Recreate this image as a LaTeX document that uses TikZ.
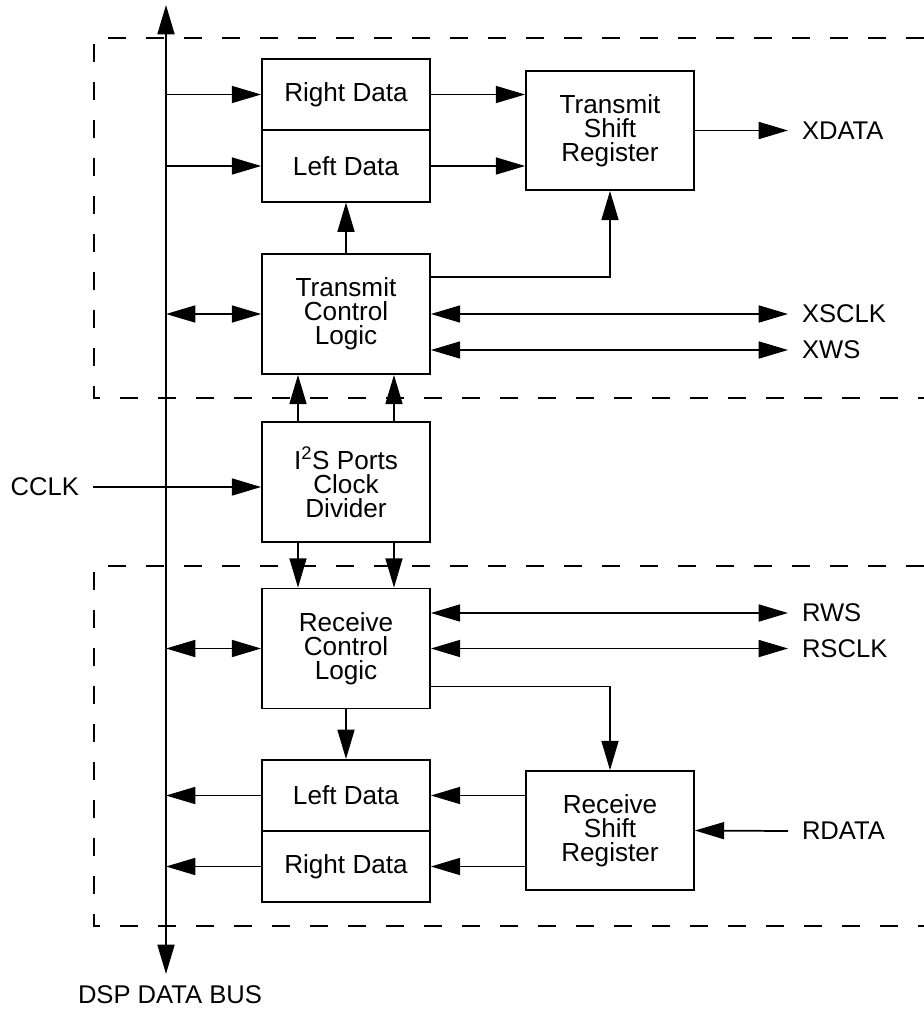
\documentclass[tikz,border=0pt]{standalone}
\usepackage{fontspec}
\setmainfont{Liberation Sans}
\usetikzlibrary{arrows.meta}

\tikzset{
  >={Triangle[length=22pt, width=12.75pt]},
  blk/.style={draw, line width=1.3pt, minimum width=126pt, minimum height=90pt,
    inner sep=0pt, align=center, font=\fontsize{19.6pt}{18pt}\selectfont},
  halfblk/.style={blk, minimum height=53.5pt},
  sig/.style={font=\fontsize{19.2pt}{18pt}\selectfont, inner sep=0pt, outer sep=10.5pt},
  frame/.style={dash pattern=on 13.5pt off 15pt, line width=1.3pt},
}

\begin{document}
\begin{tikzpicture}[x=0.75pt, y=-0.75pt, line width=1.3pt]
\useasboundingbox (0,0) rectangle (924,1014);
% dashed frames
\draw[frame] (924,38) -- (94,38) -- (94,398) -- (924,398);
\draw[frame] (924,566) -- (94,566) -- (94,926) -- (924,926);
% data bus
\coordinate (bustop) at (166,5);
\coordinate (busbot) at (166,974);
\draw[<->] (bustop) -- (busbot);
\node[sig, outer sep=0pt] (busname) at (170,995) {DSP DATA BUS};
% blocks
\node[halfblk] (rdatx) at (346,94.5) {Right Data};
\node[halfblk] (ldatx) at (346,166) {Left Data};
\node[blk, minimum height=89.25pt] (tsr) at (610,130.5) {Transmit\\Shift\\Register};
\node[blk] (tcl) at (346,314) {Transmit\\Control\\Logic};
\node[blk] (div) at (346,482) {I\textsuperscript{2}S Ports\\Clock\\Divider};
\node[blk] (rcl) at (346,648.5) {Receive\\Control\\Logic};
\node[halfblk] (ldarx) at (346,795.5) {Left Data};
\node[halfblk] (rdarx) at (346,866.5) {Right Data};
\node[blk, minimum height=89.25pt] (rsr) at (610,830.5) {Receive\\Shift\\Register};
% signal names
\node[sig, anchor=west] (xdata) at (788,130.5) {XDATA};
\node[sig, anchor=west] (xsclk) at (788,314) {XSCLK};
\node[sig, anchor=west] (xws) at (788,350) {XWS};
\node[sig, anchor=west] (rws) at (788,613) {RWS};
\node[sig, anchor=west] (rsclk) at (788,648.5) {RSCLK};
\node[sig, anchor=west] (rdata) at (788,831) {RDATA};
\node[sig, anchor=east] (cclk) at (93,487) {CCLK};
% transmit side
\draw[->] (bustop |- rdatx.west) -- (rdatx.west);
\draw[->] (bustop |- ldatx.west) -- (ldatx.west);
\draw[->] (rdatx.east) -- (rdatx.east -| tsr.west);
\draw[->] (ldatx.east) -- (ldatx.east -| tsr.west);
\draw[->] (tsr.east) -- (xdata.west);
\draw[->] (tcl.north) -- (ldatx.south);
\draw[->] ([yshift=-18pt]tcl.north east) -| (tsr.south);
\draw[<->] (bustop |- tcl.west) -- (tcl.west);
\draw[<->] (tcl.east) -- (xsclk.west);
\draw[<->] (xws.west -| tcl.east) -- (xws.west);
% clock divider
\foreach \dx in {-36pt,36pt}{
  \draw[->] ([xshift=\dx]div.north) -- ([xshift=\dx]tcl.south);
  \draw[->] ([xshift=\dx]div.south) -- ([xshift=\dx]rcl.north);
}
\draw[->] (cclk.east) -- (cclk.east -| div.west);
% receive side
\draw[<->] (bustop |- rcl.west) -- (rcl.west);
\draw[<->] (rws.west -| rcl.east) -- (rws.west);
\draw[<->] (rcl.east) -- (rsclk.west);
\draw[->] ([yshift=17.25pt]rcl.south east) -| (rsr.north);
\draw[->] (rcl.south) -- (ldarx.north);
\draw[->] (ldarx.west) -- (bustop |- ldarx.west);
\draw[->] (rdarx.west) -- (bustop |- rdarx.west);
\draw[->] (ldarx.east -| rsr.west) -- (ldarx.east);
\draw[->] (rdarx.east -| rsr.west) -- (rdarx.east);
\draw[->] (rdata.west) -- (rsr.east);
\end{tikzpicture}
\end{document}
